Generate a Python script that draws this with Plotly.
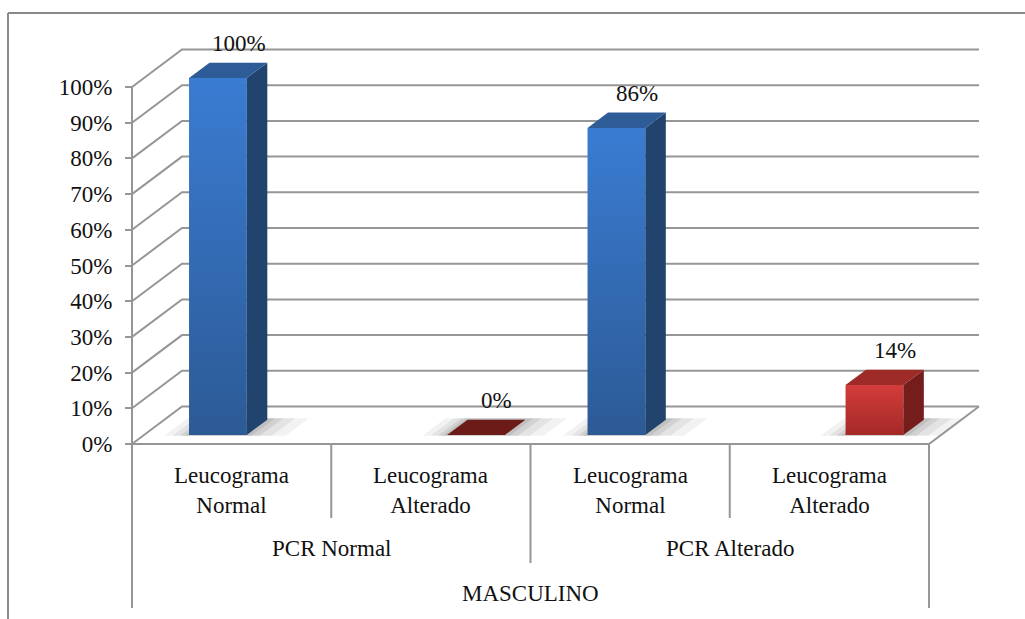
import plotly.graph_objects as go

# ---------------- data ----------------
outer_label = "MASCULINO"
group_labels = ["PCR Normal", "PCR Alterado"]
category_labels = ["Leucograma<br>Normal", "Leucograma<br>Alterado",
                   "Leucograma<br>Normal", "Leucograma<br>Alterado"]
series_of_bar = [0, 1, 0, 1]          # 0 = Leucograma Normal, 1 = Leucograma Alterado
values = [100, 0, 86, 14]             # percent
y_tick_values = [0, 10, 20, 30, 40, 50, 60, 70, 80, 90, 100]
y_tick_text = ["0%", "10%", "20%", "30%", "40%", "50%", "60%", "70%", "80%", "90%", "100%"]

# ---------------- geometry / style ----------------
W, H = 1025, 619
PX_CAT = 199.25          # px per category unit
PX_PCT = 3.57            # px per percent
X0_PX, Y0_PX = 132, 444  # pixel of (0, 0%) front corner
ML = 120
DX = 50 / PX_CAT         # depth offset of back wall (category units)
DY = 37.5 / PX_PCT       # depth offset of back wall (percent units)
D0, D1 = 0.24, 0.65      # depth of bar front / back
BAR_W = 0.29
SERIES_OFF = [-0.129, 0.166]
FONT = "Times New Roman, Liberation Serif, DejaVu Serif, serif"
GRID = "#969696"

FRONT = [["#2C5A95", "#3A7CD2"], ["#A42927", "#D23D3A"]]
SIDE = ["#21446F", "#741D1B"]
TOP = ["#2D5C96", "#9E2B28"]
FLAT = "#6C1B19"

n_cat = len(values)

def proj(x, v, d):
    return x + d * DX, v + d * DY

fig = go.Figure()

def poly(pts, color=None, gradient=None, opacity=1.0):
    xs = [p[0] for p in pts] + [pts[0][0]]
    ys = [p[1] for p in pts] + [pts[0][1]]
    kw = dict(x=xs, y=ys, mode="lines", fill="toself", line=dict(width=0),
              hoverinfo="skip", showlegend=False, opacity=opacity)
    if gradient is not None:
        kw["fillgradient"] = dict(type="vertical", colorscale=[[0, gradient[0]], [1, gradient[1]]])
    else:
        kw["fillcolor"] = color
    fig.add_trace(go.Scatter(**kw))

# ---------------- shadows on floor ----------------
for i, v in enumerate(values):
    s = series_of_bar[i]
    c = i + 0.5 + SERIES_OFF[s]
    xl, xr = c - BAR_W / 2, c + BAR_W / 2
    for grow, alpha in [(0.20, 0.05), (0.13, 0.06), (0.07, 0.08), (0.03, 0.08)]:
        pts = [proj(xl - grow * 0.6, 0, D0 - 0.02), proj(xr + grow, 0, D0 - 0.02),
               proj(xr + grow, 0, D1 + 0.04), proj(xl - grow * 0.6, 0, D1 + 0.04)]
        poly(pts, color=f"rgba(0,0,0,{alpha})")

# ---------------- gridlines / walls ----------------
gx, gy = [], []
for t in y_tick_values:
    p0 = proj(0, t, 0)
    p1 = proj(0, t, 1)
    p2 = proj(n_cat, t, 1)
    gx += [p0[0], p1[0], p2[0], None]
    gy += [p0[1], p1[1], p2[1], None]
# floor front edge and right edge
f0, f1, f2 = proj(0, 0, 0), proj(n_cat, 0, 0), proj(n_cat, 0, 1)
gx += [f0[0], f1[0], f2[0], None]
gy += [f0[1], f1[1], f2[1], None]
fig.add_trace(go.Scatter(x=gx, y=gy, mode="lines", line=dict(color=GRID, width=2),
                         hoverinfo="skip", showlegend=False))

# front vertical axis line + category frame
y_bottom = -(608 - Y0_PX) / PX_PCT
y_lvl1 = -(518 - Y0_PX) / PX_PCT
y_lvl2 = -(563 - Y0_PX) / PX_PCT
fx = [0, 0, None, n_cat, n_cat, None]
fy = [y_tick_values[-1], y_bottom, None, 0, y_bottom, None]
for k in range(1, n_cat):
    fx += [k, k, None]
    fy += [0, y_lvl2 if k == n_cat // 2 else y_lvl1, None]
fig.add_trace(go.Scatter(x=fx, y=fy, mode="lines", line=dict(color=GRID, width=2),
                         hoverinfo="skip", showlegend=False))

# ---------------- bars ----------------
for i, v in enumerate(values):
    s = series_of_bar[i]
    c = i + 0.5 + SERIES_OFF[s]
    xl, xr = c - BAR_W / 2, c + BAR_W / 2
    if v > 0:
        poly([proj(xl, 0, D0), proj(xr, 0, D0), proj(xr, v, D0), proj(xl, v, D0)],
             gradient=FRONT[s])
        poly([proj(xr, 0, D0), proj(xr, 0, D1), proj(xr, v, D1), proj(xr, v, D0)],
             color=SIDE[s])
    top_col = TOP[s] if v > 0 else FLAT
    poly([proj(xl, v, D0), proj(xr, v, D0), proj(xr, v, D1), proj(xl, v, D1)],
         color=top_col)

# ---------------- annotations ----------------
ann = []
for i, v in enumerate(values):
    s = series_of_bar[i]
    c = i + 0.5 + SERIES_OFF[s]
    lx, ly = proj(c + 0.02, v, 0.58)
    ann.append(dict(x=lx, y=ly, text=f"{v}%", showarrow=False, yshift=22,
                    font=dict(family=FONT, size=23, color="#111111"),
                    xanchor="center", yanchor="middle"))

y_txt1 = -(490 - Y0_PX) / PX_PCT
y_txt2 = -(548 - Y0_PX) / PX_PCT
y_txt3 = -(593 - Y0_PX) / PX_PCT
for i, lab in enumerate(category_labels):
    ann.append(dict(x=i + 0.5, y=y_txt1, text=lab, showarrow=False,
                    font=dict(family=FONT, size=23, color="#111111"),
                    xanchor="center", yanchor="middle"))
per_group = n_cat // len(group_labels)
for g, lab in enumerate(group_labels):
    ann.append(dict(x=g * per_group + per_group / 2, y=y_txt2, text=lab, showarrow=False,
                    font=dict(family=FONT, size=23, color="#111111"),
                    xanchor="center", yanchor="middle"))
ann.append(dict(x=n_cat / 2, y=y_txt3, text=outer_label, showarrow=False,
                font=dict(family=FONT, size=23, color="#111111"),
                xanchor="center", yanchor="middle"))

plot_w = W - ML
fig.update_layout(
    width=W, height=H,
    margin=dict(l=ML, r=0, t=0, b=0, pad=0),
    paper_bgcolor="white", plot_bgcolor="white",
    showlegend=False,
    font=dict(family=FONT),
    annotations=ann,
    xaxis=dict(range=[-(X0_PX - ML) / PX_CAT, (W - X0_PX) / PX_CAT],
               visible=False, fixedrange=True),
    yaxis=dict(range=[-(H - Y0_PX) / PX_PCT, Y0_PX / PX_PCT],
               anchor="free", position=(X0_PX - ML) / plot_w,
               tickvals=y_tick_values, ticktext=y_tick_text,
               ticks="outside", ticklen=7, tickwidth=2, tickcolor=GRID,
               ticklabelstandoff=8,
               showgrid=False, zeroline=False, showline=False,
               tickfont=dict(family=FONT, size=23, color="#111111"),
               fixedrange=True),
    shapes=[
        dict(type="line", xref="paper", yref="paper",
             x0=(8 - ML) / plot_w, x1=(8 - ML) / plot_w, y0=0, y1=(H - 13) / H,
             line=dict(color="#8A8A8A", width=2)),
        dict(type="line", xref="paper", yref="paper",
             x0=(8 - ML) / plot_w, x1=1.0, y0=(H - 13) / H, y1=(H - 13) / H,
             line=dict(color="#8A8A8A", width=2)),
    ],
)

fig.write_html("out.html")
